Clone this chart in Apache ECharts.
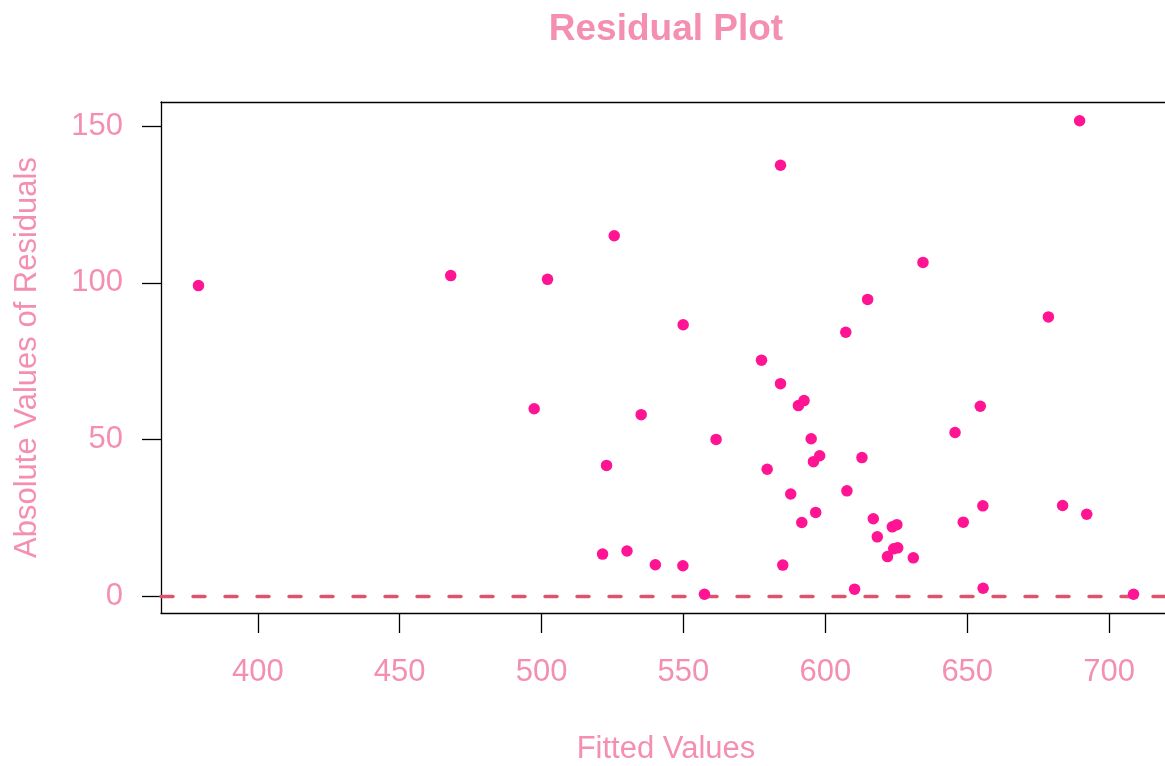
<!DOCTYPE html>
<html>
<head>
<meta charset="utf-8">
<script src="https://cdn.jsdelivr.net/npm/echarts@6/dist/echarts.min.js"></script>
<style>html,body{margin:0;padding:0;background:#fff;}#c{width:1165px;height:766px;}</style>
</head>
<body>
<div id="c"></div>
<script>
// Fitted values (x) and absolute residuals (y)
const fittedValues = [379.1, 468.0, 502.1, 525.6, 497.4, 535.1, 522.9, 521.5, 530.1, 540.1,
  549.8, 549.9, 557.4, 561.5, 584.2, 577.5, 584.2, 579.5, 585.0, 587.8,
  590.5, 592.5, 591.7, 595.0, 595.8, 598.0, 596.6, 607.2, 607.6, 610.3,
  612.9, 614.9, 616.9, 618.3, 623.6, 625.2, 621.9, 624.1, 625.5, 631.0,
  634.4, 645.7, 648.6, 654.6, 655.5, 655.6, 678.6, 689.6, 683.6, 692.1, 708.6];
const absResiduals = [99.1, 102.3, 101.1, 115.0, 59.8, 57.9, 41.7, 13.4, 14.4, 10.0,
  9.7, 86.6, 0.6, 50.0, 137.5, 75.3, 67.8, 40.5, 9.9, 32.6,
  60.8, 62.4, 23.5, 50.2, 42.9, 44.8, 26.7, 84.2, 33.6, 2.2,
  44.2, 94.7, 24.7, 18.9, 22.1, 22.8, 12.6, 15.1, 15.4, 12.2,
  106.5, 52.2, 23.6, 60.6, 28.8, 2.5, 89.1, 151.7, 28.9, 26.1, 0.6];
const xTicks = [400, 450, 500, 550, 600, 650, 700];
const yTicks = [0, 50, 100, 150];
const referenceLine = 0;

const points = fittedValues.map((x, i) => [x, absResiduals[i]]);
const pink = '#F48FB1';
const font = '"Liberation Sans", Arial, Helvetica, sans-serif';
const frame = { show: true, onZero: false, lineStyle: { color: '#000', width: 1.3 } };

const chart = echarts.init(document.getElementById('c'));
chart.setOption({
  animation: false,
  backgroundColor: '#ffffff',
  title: {
    text: 'Residual Plot',
    left: 661, top: 6, textAlign: 'center',
    textStyle: { color: pink, fontSize: 37, fontWeight: 'bold', fontFamily: font }
  },
  grid: {
    left: 161, top: 102, width: 1010, height: 511,
    outerBoundsMode: 'none', containLabel: false, show: false
  },
  xAxis: [{
    type: 'value', min: 365.9, max: 721.8, position: 'bottom',
    name: 'Fitted Values', nameLocation: 'middle', nameGap: 121,
    nameTextStyle: { color: pink, fontSize: 31, fontFamily: font },
    axisLine: frame,
    splitLine: { show: false },
    axisTick: { show: true, inside: false, length: 20, customValues: xTicks, lineStyle: { color: '#000', width: 1.3 } },
    axisLabel: { color: pink, fontSize: 31, fontFamily: font, margin: 44, customValues: xTicks }
  }, {
    type: 'value', min: 365.9, max: 721.8, position: 'top',
    axisLine: frame, axisTick: { show: false }, axisLabel: { show: false }, splitLine: { show: false }
  }],
  yAxis: {
    type: 'value', min: -5.4, max: 157.7,
    name: 'Absolute Values of Residuals', nameLocation: 'middle', nameGap: 118, nameRotate: 90,
    nameTextStyle: { color: pink, fontSize: 31, fontFamily: font },
    axisLine: frame,
    splitLine: { show: false },
    axisTick: { show: true, inside: false, length: 19, customValues: yTicks, lineStyle: { color: '#000', width: 1.3 } },
    axisLabel: { color: pink, fontSize: 31, fontFamily: font, margin: 38, customValues: yTicks }
  },
  series: [{
    type: 'scatter',
    xAxisIndex: 0,
    data: points,
    symbol: 'circle',
    symbolSize: 11.5,
    itemStyle: { color: '#FF1493', opacity: 1 },
    z: 3,
    markLine: {
      silent: true, symbol: ['none', 'none'], label: { show: false },
      lineStyle: { color: '#DF536B', width: 3.4, type: [12, 20], cap: 'round', opacity: 1 },
      data: [{ yAxis: referenceLine }],
      z: 2
    }
  }]
});
</script>
</body>
</html>
